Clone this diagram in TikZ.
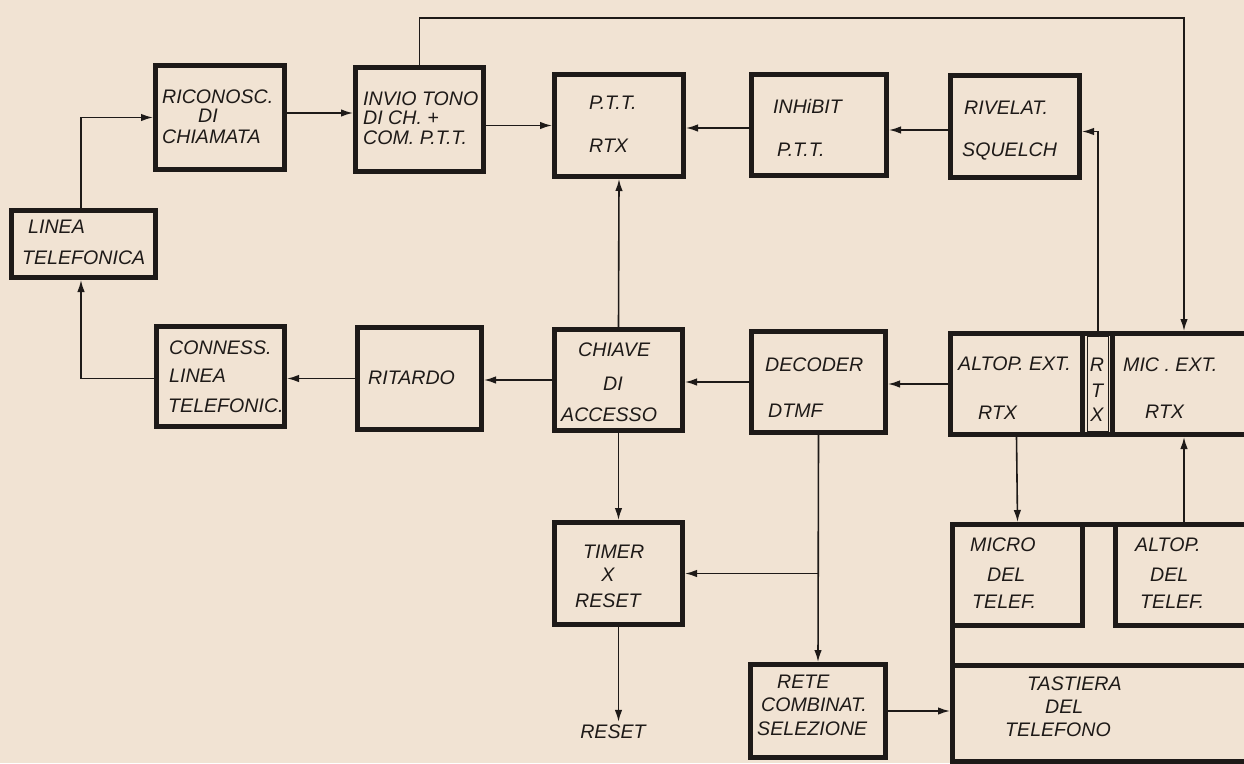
\documentclass[tikz,border=0pt]{standalone}
\usepackage{fontspec}
\setsansfont{Liberation Sans}
\usetikzlibrary{arrows.meta,calc}
\definecolor{paper}{HTML}{F1E3D3}
\definecolor{ink}{HTML}{1E1A18}
\tikzset{
  blk/.style={draw=ink, line width=5pt, inner sep=0pt},
  thinblk/.style={draw=ink, line width=1.6pt, inner sep=0pt},
  txt/.style={font=\sffamily\itshape\fontsize{19.6}{22}\selectfont, text=ink, inner sep=0pt},
  ln/.style={draw=ink, line width=1.6pt},
  arr/.style={draw=ink, line width=1.6pt, -{Latex[length=12pt,width=7.5pt]}},
  thk/.style={draw=ink, line width=5pt}
}
\newcommand\mybox[6][blk]{%
  \pgfmathsetmacro\bw{#5-#3-5}\pgfmathsetmacro\bh{#6-#4-5}%
  \node[#1, minimum width=\bw pt, minimum height=\bh pt] (#2) at ({(#3+#5)/2},{(#4+#6)/2}) {};}
\newcommand\lb[4]{\node[txt, anchor=west] (#1) at (#2,#3) {#4};}
\newcommand\lc[4]{\node[txt, anchor=center] (#1) at (#2,#3) {#4};}
\begin{document}
\begin{tikzpicture}[x=1pt,y=-1pt]
\fill[paper] (0,0) rectangle (1244,763);
\useasboundingbox (0,0) rectangle (1244,763);
\clip (0,0) rectangle (1244,763);

% boxes
\mybox{linea}{9}{208}{158}{280}
\mybox{ricon}{153}{63}{287}{172}
\mybox{invio}{353}{65}{486}{174}
\mybox{ptt}{552}{72}{686}{179}
\mybox{inhibit}{749}{72}{889}{178}
\mybox{rivel}{948}{73}{1082}{180}
\mybox{conn}{154}{324}{287}{429}
\mybox{ritardo}{355}{325}{484}{432}
\mybox{chiave}{552}{327}{685}{433}
\mybox{decoder}{749}{329}{888}{435}
\mybox{timer}{552}{520}{685}{627}
\mybox{rete}{748}{662}{888}{760}
% transceiver group
\mybox{rtxgrp}{948}{331}{1270}{437}
\mybox{altop}{948}{331}{1085}{437}
\mybox{mic}{1110}{331}{1270}{437}
\mybox[thinblk]{strip}{1085}{334}{1111}{434}
% telephone group
\mybox{micro}{950}{522}{1085}{628}
\mybox{altopdel}{1113}{522}{1270}{628}
\mybox{tastiera}{950}{663}{1270}{764}
\draw[thk] (952.5,626) -- (952.5,666);
\draw[thk] (1083,524.5) -- (1115,524.5);

% labels
\lb{lineaA}{28}{227}{LINEA}
\lb{lineaB}{22}{258}{TELEFONICA}
\lb{riconA}{162}{97}{RICONOSC.}
\lb{riconB}{198}{116}{DI}
\lb{riconC}{162}{137}{CHIAMATA}
\lb{invioA}{363}{99}{INVIO TONO}
\lb{invioB}{363}{118}{DI CH. +}
\lb{invioC}{363}{138}{COM. P.T.T.}
\lb{pttA}{589}{103}{P.T.T.}
\lb{pttB}{589}{146}{RTX}
\lb{inhA}{773}{106}{INHiBIT}
\lb{inhB}{777}{150}{P.T.T.}
\lb{rivA}{964}{108}{RIVELAT.}
\lb{rivB}{962}{152}{SQUELCH}
\lb{connA}{169}{348}{CONNESS.}
\lb{connB}{169}{376}{LINEA}
\lb{connC}{168}{406}{TELEFONIC.}
\lb{ritA}{368}{378}{RITARDO}
\lb{chA}{578}{350}{CHIAVE}
\lb{chB}{603}{384}{DI}
\lb{chC}{561}{415}{ACCESSO}
\lb{decA}{765}{365}{DECODER}
\lb{decB}{768}{411}{DTMF}
\lb{altA}{958}{364}{ALTOP. EXT.}
\lb{altB}{978}{413}{RTX}
\lc{stR}{1097}{365}{R}
\lc{stT}{1097}{391}{T}
\lc{stX}{1097}{415}{X}
\lb{micA}{1123}{365}{MIC . EXT.}
\lb{micB}{1145}{412}{RTX}
\lb{timA}{583}{552}{TIMER}
\lc{timB}{608}{575}{X}
\lb{timC}{575}{601}{RESET}
\node[txt, inner sep=3pt] (reset) at (613,732) {RESET};
\lb{reteA}{777}{682}{RETE}
\lb{reteB}{761}{705}{COMBINAT.}
\lb{reteC}{757}{729}{SELEZIONE}
\lb{mcA}{970}{545}{MICRO}
\lb{mcB}{987}{575}{DEL}
\lb{mcC}{972}{602}{TELEF.}
\lb{adA}{1135}{545}{ALTOP.}
\lb{adB}{1150}{575}{DEL}
\lb{adC}{1140}{602}{TELEF.}
\lb{taA}{1027}{684}{TASTIERA}
\lb{taB}{1045}{707}{DEL}
\lb{taC}{1005}{730}{TELEFONO}

% connectors
\coordinate (toprow) at (0,18);
\coordinate (micin) at ($(mic.north)+(-6,0)$);
\coordinate (micout) at ($(mic.south)+(-6,0)$);
\draw[arr] (invio.north) |- (toprow -| micin) -- (micin);
\coordinate (la) at ($(linea.north)+(-2.5,0)$);
\draw[arr] (la) |- (ricon.west);
\coordinate (ra) at ($(ricon.east)+(0,-4.5)$);
\draw[arr] (ra) -- (ra -| invio.west);
\draw[arr] (ptt.west -| invio.east) -- (ptt.west);
\coordinate (ia) at ($(inhibit.west)+(0,3)$);
\draw[arr] (ia) -- (ia -| ptt.east);
\coordinate (rva) at ($(rivel.west)+(0,3.5)$);
\draw[arr] (rva) -- (rva -| inhibit.east);
\draw[arr] (strip.north) |- ($(rivel.east)+(0,5)$);
\draw[arr] (chiave.north) -- (ptt.south);
\draw[arr] (chiave.west) -- (chiave.west -| ritardo.east);
\draw[arr] (ritardo.west) -- (ritardo.west -| conn.east);
\coordinate (lb) at ($(linea.south)+(-2.5,0)$);
\draw[arr] ($(conn.west)+(0,2)$) -| (lb);
\draw[arr] (decoder.west) -- (decoder.west -| chiave.east);
\draw[arr] (altop.west) -- (altop.west -| decoder.east);
\draw[arr] (decoder.south) -- (rete.north);
\draw[arr] (timer.east -| decoder.south) -- (timer.east);
\draw[arr] (chiave.south) -- (timer.north);
\draw[arr] (timer.south) -- (timer.south |- reset.north);
\draw[arr] (altop.south) -- (micro.north);
\draw[arr] (altopdel.north -| micout) -- (micout);
\draw[arr] (rete.east) -- (rete.east -| tastiera.west);
\end{tikzpicture}
\end{document}
